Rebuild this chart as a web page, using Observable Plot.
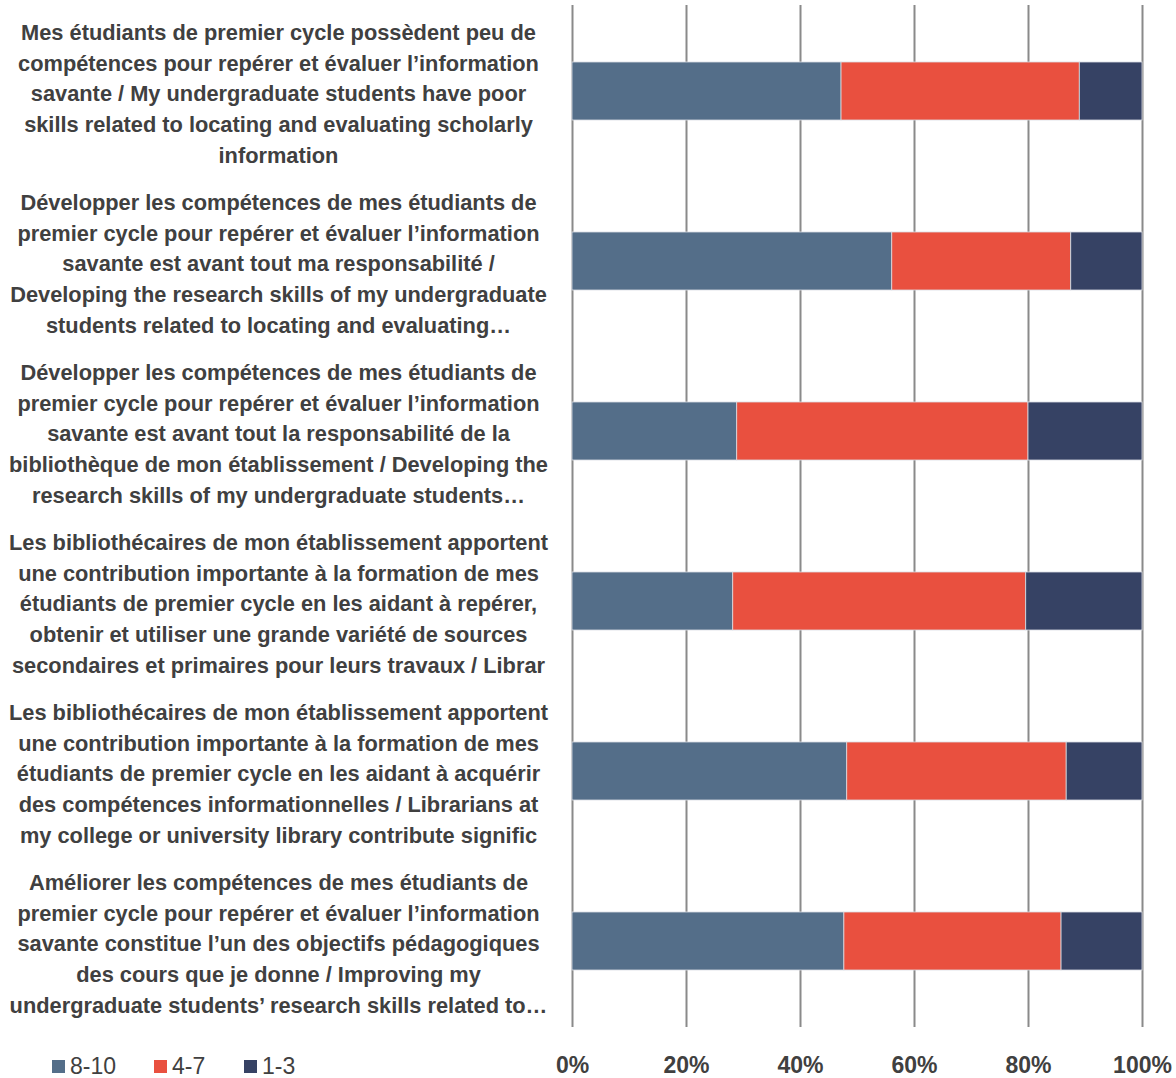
<!DOCTYPE html>
<html>
<head>
<meta charset="utf-8">
<script src="https://cdn.jsdelivr.net/npm/d3@7"></script>
<script src="https://cdn.jsdelivr.net/npm/@observablehq/plot@0.6"></script>
<style>
  html, body { margin: 0; padding: 0; background: #fff; }
  #wrap { position: relative; width: 1176px; height: 1078px; }
  #legend { position: absolute; left: 52px; top: 1053px; display: flex; font-family: "Liberation Sans Narrow", "Liberation Sans", Arial, sans-serif; font-size: 23px; line-height: 1.2; color: #404040; }
  #legend .item { display: flex; align-items: center; }
  #legend .sw { width: 13px; height: 13px; margin-right: 5px; }
</style>
</head>
<body>
<div id="wrap"></div>
<script>
const categories = [
  "Mes étudiants de premier cycle possèdent peu de\ncompétences pour repérer et évaluer l’information\nsavante / My undergraduate students have poor\nskills related to locating and evaluating scholarly\ninformation",
  "Développer les compétences de mes étudiants de\npremier cycle pour repérer et évaluer l’information\nsavante est avant tout ma responsabilité /\nDeveloping the research skills of my undergraduate\nstudents related to locating and evaluating…",
  "Développer les compétences de mes étudiants de\npremier cycle pour repérer et évaluer l’information\nsavante est avant tout la responsabilité de la\nbibliothèque de mon établissement / Developing the\nresearch skills of my undergraduate students…",
  "Les bibliothécaires de mon établissement apportent\nune contribution importante à la formation de mes\nétudiants de premier cycle en les aidant à repérer,\nobtenir et utiliser une grande variété de sources\nsecondaires et primaires pour leurs travaux / Librar",
  "Les bibliothécaires de mon établissement apportent\nune contribution importante à la formation de mes\nétudiants de premier cycle en les aidant à acquérir\ndes compétences informationnelles / Librarians at\nmy college or university library contribute signific",
  "Améliorer les compétences de mes étudiants de\npremier cycle pour repérer et évaluer l’information\nsavante constitue l’un des objectifs pédagogiques\ndes cours que je donne / Improving my\nundergraduate students’ research skills related to…"
];
const seriesNames = ["8-10", "4-7", "1-3"];
const seriesColors = ["#546E89", "#E9503F", "#364264"];
const v8_10 = [47.2, 56.1, 28.9, 28.2, 48.2, 47.7];
const v4_7  = [41.8, 31.4, 51.1, 51.4, 38.5, 38.1];
const v1_3  = [11.0, 12.5, 20.0, 20.4, 13.3, 14.2];
const xTicks = [0, 20, 40, 60, 80, 100];

const valuesBySeries = [v8_10, v4_7, v1_3];
const data = [];
categories.forEach((c, i) => {
  seriesNames.forEach((s, j) => {
    data.push({category: c, series: s, value: valuesBySeries[j][i]});
  });
});

const chart = Plot.plot({
  width: 1176,
  height: 1078,
  marginLeft: 572,
  marginRight: 34,
  marginTop: 5,
  marginBottom: 51,
  style: {fontFamily: "'Liberation Sans', Arial, sans-serif", color: "#404040", background: "#fff"},
  x: {domain: [0, 100], ticks: xTicks, tickFormat: d => d + "%"},
  y: {domain: categories, paddingInner: 0.66, paddingOuter: 0.33},
  color: {domain: seriesNames, range: seriesColors},
  marks: [
    Plot.gridX(xTicks, {stroke: "#8a8a8a", strokeOpacity: 1, strokeWidth: 2}),
    Plot.barX(data, Plot.stackX({x: "value", y: "category", fill: "series", stroke: "#d9dde3", strokeWidth: 0.8})),
    Plot.axisX(xTicks, {
      tickSize: 0, tickPadding: 29, fontSize: 23, fontWeight: "bold",
      fontFamily: "'Liberation Sans Narrow', 'Liberation Sans', Arial, sans-serif",
      fill: "#404040", tickFormat: d => d + "%", label: null
    }),
    Plot.axisY({
      tickSize: 0, tickPadding: 0, dx: -294, textAnchor: "middle",
      fontSize: 21.8, fontWeight: "bold", lineHeight: 1.41, fill: "#404040", label: null
    })
  ]
});

document.getElementById("wrap").appendChild(chart);

const legend = document.createElement("div");
legend.id = "legend";
const gaps = [102, 90, 0];
seriesNames.forEach((s, j) => {
  const item = document.createElement("div");
  item.className = "item";
  item.style.width = gaps[j] ? gaps[j] + "px" : "auto";
  const sw = document.createElement("div");
  sw.className = "sw";
  sw.style.background = seriesColors[j];
  const t = document.createElement("span");
  t.textContent = s;
  item.appendChild(sw);
  item.appendChild(t);
  legend.appendChild(item);
});
document.getElementById("wrap").appendChild(legend);
</script>
</body>
</html>
